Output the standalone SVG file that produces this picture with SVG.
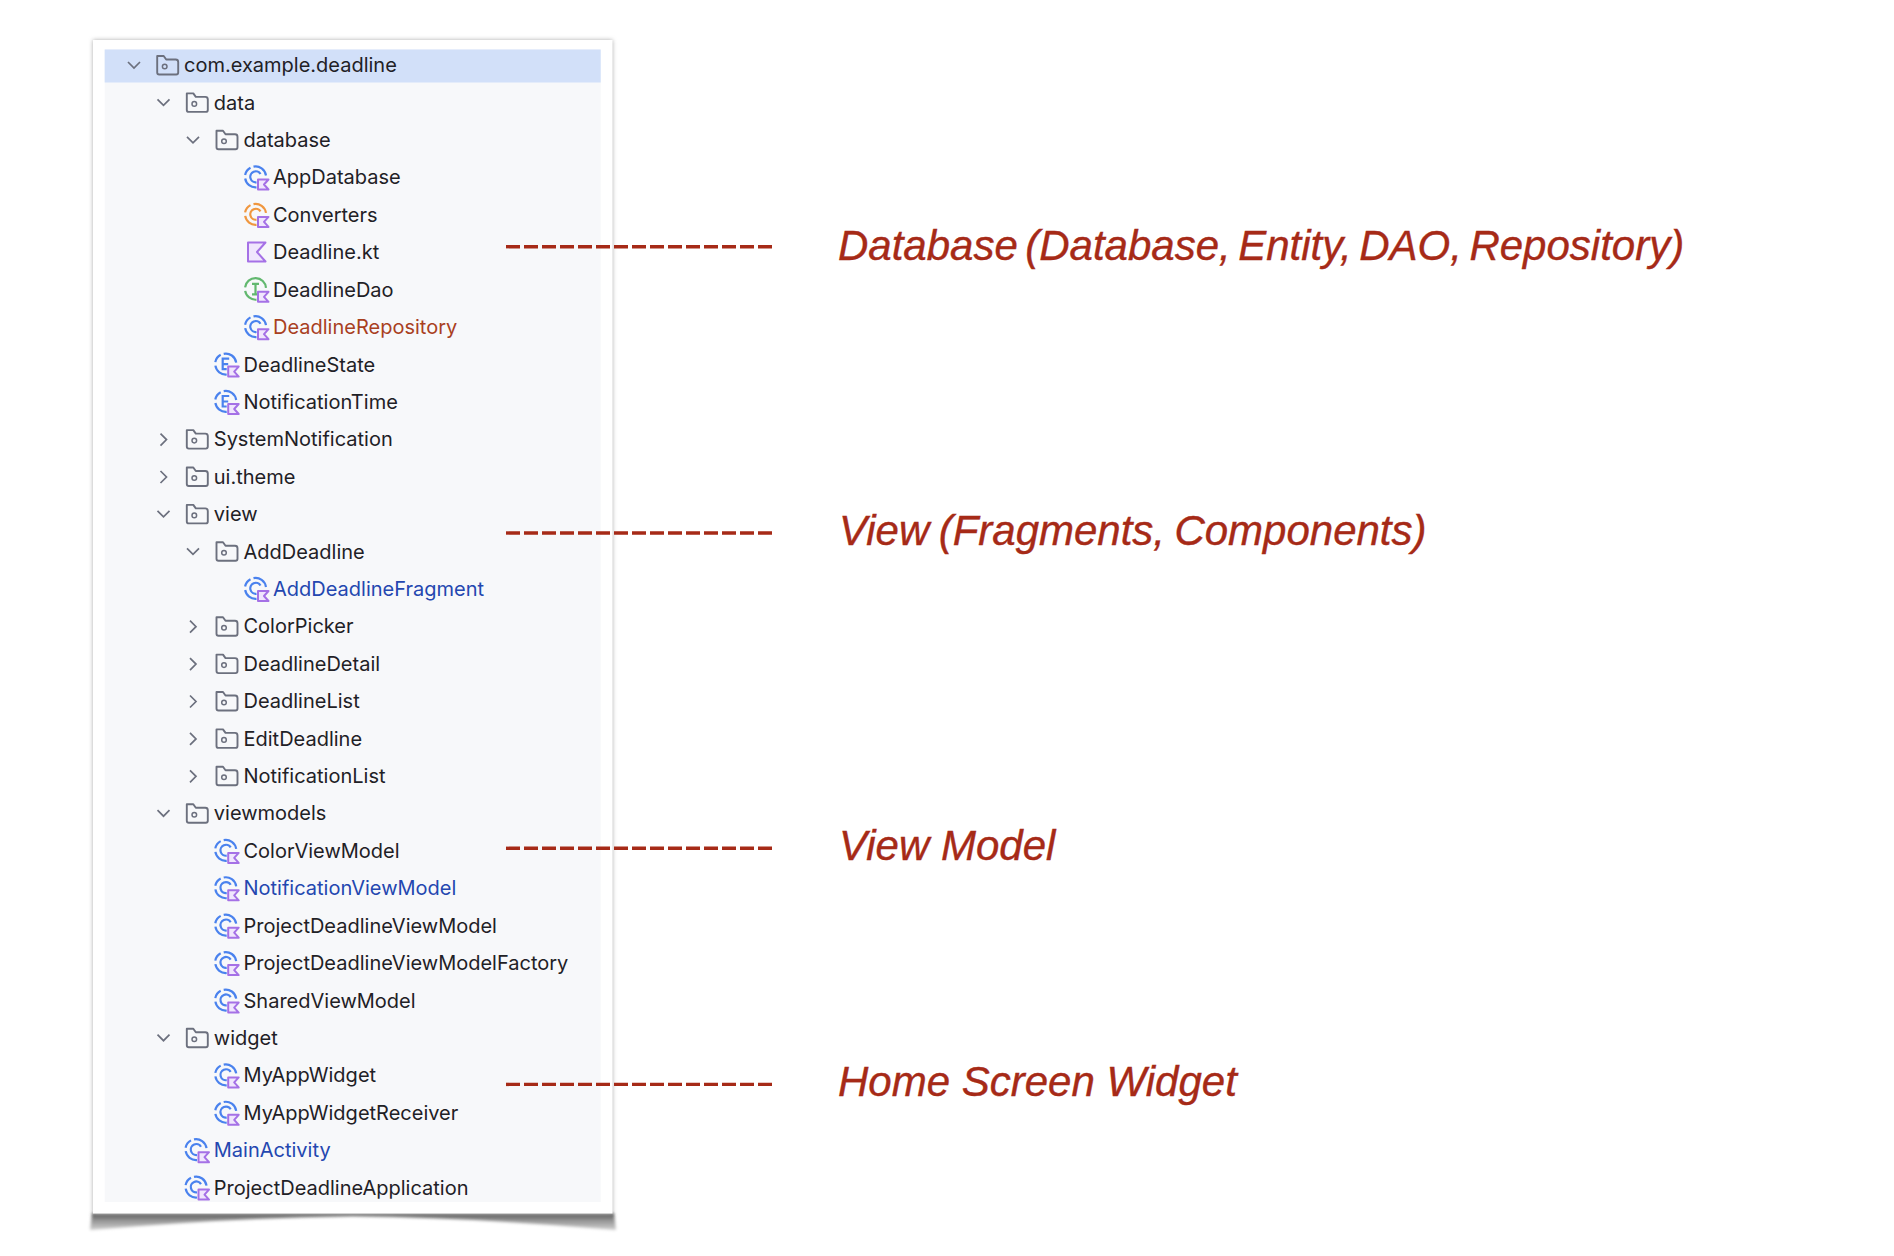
<svg xmlns="http://www.w3.org/2000/svg" width="1894" height="1256" viewBox="0 0 1894 1256">
<style>
text{font-family:"Inter","Liberation Sans",sans-serif}
.t{font-size:20px;fill:#1f2126}
.r{fill:#a9401f}
.b{fill:#2447b0}
.l{font-family:"Liberation Sans",Arial,sans-serif;font-style:italic;font-size:42px;fill:#a62a17;stroke:#a62a17;stroke-width:.4}
.d{stroke:#a62a17;stroke-width:3.400;stroke-dasharray:14 4;fill:none}
.ch{fill:none;stroke:#6c707e;stroke-width:1.700}
.f{fill:none;stroke:#6c707e;stroke-width:1.900;stroke-linejoin:round}
.k{fill:#f0e6fd;stroke:#a571e6;stroke-width:2;stroke-linejoin:round}
.cb{fill:none;stroke:#4a82ee;stroke-width:2.200}
.co{fill:none;stroke:#f0973f;stroke-width:2.200}
.cg{fill:none;stroke:#62b86f;stroke-width:2.200}
</style>
<defs>
<linearGradient id="sh" gradientUnits="userSpaceOnUse" x1="0" y1="1213" x2="0" y2="1232"><stop offset="0" stop-color="#4a4a4a"/><stop offset=".35" stop-color="#8f8f8f"/><stop offset="1" stop-color="#dcdcdc"/></linearGradient>
<filter id="bl" x="-10%" y="-10%" width="120%" height="120%"><feGaussianBlur stdDeviation="2"/></filter>
<filter id="bs" x="-5%" y="-50%" width="110%" height="200%"><feGaussianBlur stdDeviation="1.500"/></filter>
<g id="down"><path class="ch" d="M-6-3.500L0 2.500 6-3.500"/></g>
<g id="right"><path class="ch" d="M-3-6L3 0-3 6"/></g>
<g id="folder"><path class="f" d="M-10-9.500h6.500l2.500 3.500h9.500q2.500 0 2.500 2.500v10.500q0 2-2 2h-17q-2 0-2-2z"/><circle class="f" cx="-2.500" cy="1" r="2.300" style="stroke-width:1.500"/></g>
<g id="badge"><path class="k" d="M2.500 2.500h10.500l-4.500 5 4.500 5h-10.500z"/></g>
<g id="cc"><path class="cb" d="M10.500-1.500A10.500 10.500 0 0 0-2-10.300M-5-9.300A10.500 10.500 0 0 0-10.400-2M-10.300 1.500A10.500 10.500 0 0 0 1 10.400"/><path class="cb" d="M5-3A5.500 5.500 0 1 0 1 5.300"/><use href="#badge"/></g>
<g id="co"><path class="co" d="M10.500-1.500A10.500 10.500 0 0 0-2-10.300M-5-9.300A10.500 10.500 0 0 0-10.400-2M-10.300 1.500A10.500 10.500 0 0 0 1 10.400"/><path class="co" d="M5-3A5.500 5.500 0 1 0 1 5.300"/><use href="#badge"/></g>
<g id="ce"><path class="cb" d="M10.500-1.500A10.500 10.500 0 0 0-2-10.300M-5-9.300A10.500 10.500 0 0 0-10.400-2M-10.300 1.500A10.500 10.500 0 0 0 1 10.400"/><path class="cb" d="M3.500-5.500H-3V5H1M-3 0H2.500"/><use href="#badge"/></g>
<g id="ci"><path class="cg" d="M10.500-1.500A10.500 10.500 0 0 0-10.400-2M-10.300 1.500A10.500 10.500 0 0 0 1 10.400"/><path class="cg" d="M-3.500-5.500H3.500M0-5.500V5M-3.500 5H2"/><use href="#badge"/></g>
<g id="kt"><path class="k" d="M-8-9.500H9.500L1 0 9.500 9.500H-8z"/></g>
</defs>
<rect width="1894" height="1256" fill="#fff"/>
<g id="card">
<path d="M92 1213H614L616 1230Q480 1218 353 1216Q225 1218 90 1230z" fill="url(#sh)" filter="url(#bs)"/>
<rect x="93" y="40" width="519.500" height="1174" fill="#aaa" filter="url(#bl)"/>
<rect x="93" y="40" width="519.500" height="1173.500" fill="#fff"/>
<rect x="104.700" y="49.500" width="496" height="1152.500" fill="#f7f8fa"/>
<rect x="104.700" y="49.500" width="496" height="33" fill="#d2e0f9"/>
</g>
<g id="n0"><use href="#down" x="134" y="65.500"/><use href="#folder" x="167.200" y="65.500"/><text class="t" x="184" y="72.200">com.example.deadline</text></g>
<g id="n1"><use href="#down" x="163.500" y="102.900"/><use href="#folder" x="196.800" y="102.900"/><text class="t" x="213.800" y="109.600">data</text></g>
<g id="n2"><use href="#down" x="193" y="140.300"/><use href="#folder" x="226.500" y="140.300"/><text class="t" x="243.500" y="147">database</text></g>
<g id="n3"><use href="#cc" x="255.500" y="177"/><text class="t" x="273" y="184.400">AppDatabase</text></g>
<g id="n4"><use href="#co" x="255.500" y="214.400"/><text class="t" x="273" y="221.800">Converters</text></g>
<g id="n5"><use href="#kt" x="256" y="252"/><text class="t" x="273" y="259.300">Deadline.kt</text></g>
<g id="n6"><use href="#ci" x="255.500" y="289.300"/><text class="t" x="273" y="296.700">DeadlineDao</text></g>
<g id="n7"><use href="#cc" x="255.500" y="326.700"/><text class="t r" x="273" y="334.100">DeadlineRepository</text></g>
<g id="n8"><use href="#ce" x="225.700" y="364.100"/><text class="t" x="243.500" y="371.500">DeadlineState</text></g>
<g id="n9"><use href="#ce" x="225.700" y="401.500"/><text class="t" x="243.500" y="408.900">NotificationTime</text></g>
<g id="n10"><use href="#right" x="163.500" y="439.600"/><use href="#folder" x="196.800" y="439.600"/><text class="t" x="213.800" y="446.300">SystemNotification</text></g>
<g id="n11"><use href="#right" x="163.500" y="477"/><use href="#folder" x="196.800" y="477"/><text class="t" x="213.800" y="483.700">ui.theme</text></g>
<g id="n12"><use href="#down" x="163.500" y="514.400"/><use href="#folder" x="196.800" y="514.400"/><text class="t" x="213.800" y="521.100">view</text></g>
<g id="n13"><use href="#down" x="193" y="551.800"/><use href="#folder" x="226.500" y="551.800"/><text class="t" x="243.500" y="558.500">AddDeadline</text></g>
<g id="n14"><use href="#cc" x="255.500" y="588.500"/><text class="t b" x="273" y="595.900">AddDeadlineFragment</text></g>
<g id="n15"><use href="#right" x="193" y="626.700"/><use href="#folder" x="226.500" y="626.700"/><text class="t" x="243.500" y="633.400">ColorPicker</text></g>
<g id="n16"><use href="#right" x="193" y="664.100"/><use href="#folder" x="226.500" y="664.100"/><text class="t" x="243.500" y="670.800">DeadlineDetail</text></g>
<g id="n17"><use href="#right" x="193" y="701.500"/><use href="#folder" x="226.500" y="701.500"/><text class="t" x="243.500" y="708.200">DeadlineList</text></g>
<g id="n18"><use href="#right" x="193" y="738.900"/><use href="#folder" x="226.500" y="738.900"/><text class="t" x="243.500" y="745.600">EditDeadline</text></g>
<g id="n19"><use href="#right" x="193" y="776.300"/><use href="#folder" x="226.500" y="776.300"/><text class="t" x="243.500" y="783">NotificationList</text></g>
<g id="n20"><use href="#down" x="163.500" y="813.700"/><use href="#folder" x="196.800" y="813.700"/><text class="t" x="213.800" y="820.400">viewmodels</text></g>
<g id="n21"><use href="#cc" x="225.700" y="850.400"/><text class="t" x="243.500" y="857.800">ColorViewModel</text></g>
<g id="n22"><use href="#cc" x="225.700" y="887.800"/><text class="t b" x="243.500" y="895.200">NotificationViewModel</text></g>
<g id="n23"><use href="#cc" x="225.700" y="925.200"/><text class="t" x="243.500" y="932.600">ProjectDeadlineViewModel</text></g>
<g id="n24"><use href="#cc" x="225.700" y="962.600"/><text class="t" x="243.500" y="970">ProjectDeadlineViewModelFactory</text></g>
<g id="n25"><use href="#cc" x="225.700" y="1000.100"/><text class="t" x="243.500" y="1007.500">SharedViewModel</text></g>
<g id="n26"><use href="#down" x="163.500" y="1038.200"/><use href="#folder" x="196.800" y="1038.200"/><text class="t" x="213.800" y="1044.900">widget</text></g>
<g id="n27"><use href="#cc" x="225.700" y="1074.900"/><text class="t" x="243.500" y="1082.300">MyAppWidget</text></g>
<g id="n28"><use href="#cc" x="225.700" y="1112.300"/><text class="t" x="243.500" y="1119.700">MyAppWidgetReceiver</text></g>
<g id="n29"><use href="#cc" x="196" y="1149.700"/><text class="t b" x="213.800" y="1157.100">MainActivity</text></g>
<g id="n30"><use href="#cc" x="196" y="1187.100"/><text class="t" x="213.800" y="1194.500">ProjectDeadlineApplication</text></g>
<g id="connectors">
<path class="d" d="M506 246.700H772"/>
<path class="d" d="M506 533H772"/>
<path class="d" d="M506 848.300H772"/>
<path class="d" d="M506 1084.400H772"/>
</g>
<g id="label-database"><text class="l" x="838" y="259.600" word-spacing="-4.200">Database (Database, Entity, DAO, Repository)</text></g>
<g id="label-view"><text class="l" x="839" y="545" word-spacing="-2.300">View (Fragments, Components)</text></g>
<g id="label-viewmodel"><text class="l" x="839" y="860.300">View Model</text></g>
<g id="label-widget"><text class="l" x="838" y="1095.700">Home Screen Widget</text></g>
</svg>
